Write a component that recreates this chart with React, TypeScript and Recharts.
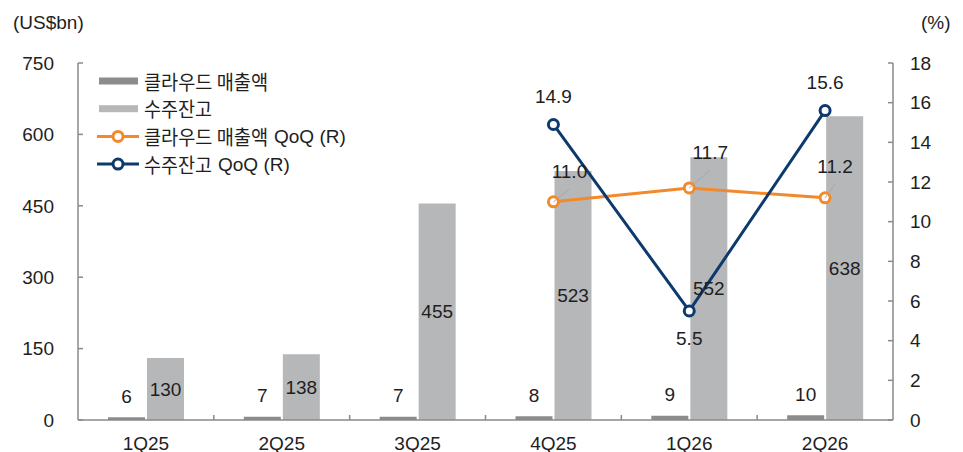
import React from 'react';
import { ComposedChart, Bar, Line, XAxis, YAxis, LabelList, Legend } from 'recharts';

// ---- data ----
const categories = ['1Q25', '2Q25', '3Q25', '4Q25', '1Q26', '2Q26'];
const cloudRevenue = [6, 7, 7, 8, 9, 10];
const backlog = [130, 138, 455, 523, 552, 638];
const cloudQoQ: (number | null)[] = [null, null, null, 11.0, 11.7, 11.2];
const backlogQoQ: (number | null)[] = [null, null, null, 14.9, 5.5, 15.6];
const leftTicks = [0, 150, 300, 450, 600, 750];
const rightTicks = [0, 2, 4, 6, 8, 10, 12, 14, 16, 18];
const seriesNames = ['클라우드 매출액', '수주잔고', '클라우드 매출액 QoQ (R)', '수주잔고 QoQ (R)'];
const leftUnit = '(US$bn)';
const rightUnit = '(%)';

// ---- styles ----
const DARK = '#8C8C8C';
const LIGHT = '#B6B7B9';
const ORANGE = '#F28A2C';
const NAVY = '#0D3A6C';
const AXIS = '#8A8A8A';
const TEXT = '#1E1E1E';
const LATIN = "'Liberation Sans', Arial, 'Noto Sans CJK KR', sans-serif";
const HANGUL = "'Noto Sans CJK KR', sans-serif";
const FS = 19;
const HANGUL_ADV = 17;
const SPACE_ADV = 5;
// label placement (style, not data)
const cloudQoQLabelOffset: Record<number, [number, number]> = { 3: [16, -30], 4: [21, -35], 5: [10, -31] };
const backlogQoQLabelSide: Record<number, number> = { 3: -1, 4: 1, 5: -1 };

const data = categories.map((c, i) => ({
  cat: c,
  cloud: cloudRevenue[i],
  backlog: backlog[i],
  cloudQoQ: cloudQoQ[i],
  backlogQoQ: backlogQoQ[i],
}));

const fmt1 = (v: number) => v.toFixed(1);

const DarkBarLabel = (p: any) => {
  const { x, y, width, value } = p;
  if (value == null) return null;
  return (
    <text x={x + width / 2} y={y - 21} textAnchor="middle" dominantBaseline="central"
      fontSize={FS} fontFamily={LATIN} fill={TEXT}>{value}</text>
  );
};

const LightBarLabel = (p: any) => {
  const { x, y, width, height, value } = p;
  if (value == null) return null;
  return (
    <text x={x + width / 2} y={y + height / 2} textAnchor="middle" dominantBaseline="central"
      fontSize={FS} fontFamily={LATIN} fill={TEXT}>{value}</text>
  );
};

const CloudQoQLabel = (p: any) => {
  const { x, y, value, index } = p;
  if (value == null) return null;
  const off = cloudQoQLabelOffset[index] || [14, -32];
  const lx = x + off[0];
  const ly = y + off[1];
  return (
    <g>
      <line x1={x} y1={y} x2={lx} y2={ly + 17} stroke="#A8A8A8" strokeWidth={1} />
      <text x={lx} y={ly} textAnchor="middle" dominantBaseline="central"
        fontSize={FS} fontFamily={LATIN} fill={TEXT}>{fmt1(value)}</text>
    </g>
  );
};

const BacklogQoQLabel = (p: any) => {
  const { x, y, value, index } = p;
  if (value == null) return null;
  const side = backlogQoQLabelSide[index] ?? -1;
  return (
    <text x={x} y={y + side * 28} textAnchor="middle" dominantBaseline="central"
      fontSize={FS} fontFamily={LATIN} fill={TEXT}>{fmt1(value)}</text>
  );
};

const splitName = (name: string) => {
  const idx = name.indexOf(' QoQ');
  if (idx < 0) return [name, ''];
  return [name.slice(0, idx), name.slice(idx + 1)];
};

const koWidth = (s: string) =>
  s.split('').reduce((acc, ch) => acc + (ch === ' ' ? SPACE_ADV : HANGUL_ADV), 0);

const LegendContent = () => {
  const rows = [
    { kind: 'bar', color: DARK, name: seriesNames[0] },
    { kind: 'bar', color: LIGHT, name: seriesNames[1] },
    { kind: 'line', color: ORANGE, name: seriesNames[2] },
    { kind: 'line', color: NAVY, name: seriesNames[3] },
  ];
  return (
    <svg width={280} height={115} style={{ display: 'block' }}>
      {rows.map((r, i) => {
        const cy = 14 + i * 27.7;
        const [ko, lat] = splitName(r.name);
        const w = koWidth(ko);
        return (
          <g key={i}>
            {r.kind === 'bar' ? (
              <rect x={4} y={cy - 3.5} width={39} height={7} fill={r.color} />
            ) : (
              <g>
                <line x1={2} y1={cy} x2={44} y2={cy} stroke={r.color} strokeWidth={3} />
                <circle cx={23} cy={cy} r={5} fill="#fff" stroke={r.color} strokeWidth={3} />
              </g>
            )}
            <text x={49} y={cy} dominantBaseline="central" fill={TEXT}
              fontFamily={HANGUL} fontSize={20} textLength={w} lengthAdjust="spacingAndGlyphs">
              {ko}
            </text>
            {lat ? (
              <text x={49 + w + 6} y={cy} dominantBaseline="central" fill={TEXT}
                fontFamily={LATIN} fontSize={FS}>
                {lat}
              </text>
            ) : null}
          </g>
        );
      })}
    </svg>
  );
};

const XTick = (p: any) => {
  const { x, payload } = p;
  const off = payload && typeof payload.offset === 'number' ? payload.offset : 815 / 12;
  const bx = payload.coordinate - off;
  return (
    <g>
      {payload.index > 0 ? (
        <line x1={bx} y1={420} x2={bx} y2={415} stroke={AXIS} strokeWidth={1.5} />
      ) : null}
      <text x={x} y={443} textAnchor="middle" dominantBaseline="central"
        fontSize={FS} fontFamily={LATIN} fill={TEXT}>{payload.value}</text>
    </g>
  );
};

export default function App() {
  return (
    <div style={{ position: 'absolute', left: 0, top: 0, width: 963, height: 452, background: '#fff' }}>
      <ComposedChart
        width={963}
        height={452}
        data={data}
        margin={{ top: 63, right: 0, bottom: 0, left: 0 }}
        barGap={2}
      >
        <XAxis
          dataKey="cat"
          height={32}
          axisLine={{ stroke: AXIS, strokeWidth: 1.5 }}
          tickLine={false}
          tickSize={0}
          tickMargin={0}
          tick={<XTick />}
          interval={0}
        />
        <YAxis
          yAxisId="left"
          width={78}
          domain={[0, 750]}
          ticks={leftTicks}
          interval={0}
          axisLine={{ stroke: AXIS, strokeWidth: 1.5 }}
          tickLine={{ stroke: AXIS, strokeWidth: 1.5 }}
          tickSize={-5}
          tickMargin={29}
          tick={{ fontSize: FS, fontFamily: LATIN, fill: TEXT }}
          label={() => (
            <text x={13} y={22} dominantBaseline="central" fontSize={FS} fontFamily={LATIN} fill={TEXT}>
              {leftUnit}
            </text>
          )}
        />
        <YAxis
          yAxisId="right"
          orientation="right"
          width={70}
          domain={[0, 18]}
          ticks={rightTicks}
          interval={0}
          axisLine={{ stroke: AXIS, strokeWidth: 1.5 }}
          tickLine={{ stroke: AXIS, strokeWidth: 1.5 }}
          tickSize={-5}
          tickMargin={22}
          tick={{ fontSize: FS, fontFamily: LATIN, fill: TEXT }}
          label={() => (
            <text x={921} y={22} dominantBaseline="central" fontSize={FS} fontFamily={LATIN} fill={TEXT}>
              {rightUnit}
            </text>
          )}
        />
        <Legend
          layout="vertical"
          align="center"
          verticalAlign="middle"
          content={<LegendContent />}
          wrapperStyle={{ position: 'absolute', left: 95, top: 67, width: 280, height: 115 }}
        />
        <Bar yAxisId="left" dataKey="cloud" name={seriesNames[0]} fill={DARK} barSize={37} isAnimationActive={false}>
          <LabelList dataKey="cloud" content={<DarkBarLabel />} />
        </Bar>
        <Bar yAxisId="left" dataKey="backlog" name={seriesNames[1]} fill={LIGHT} barSize={37} isAnimationActive={false}>
          <LabelList dataKey="backlog" content={<LightBarLabel />} />
        </Bar>
        <Line
          yAxisId="right"
          dataKey="cloudQoQ"
          name={seriesNames[2]}
          stroke={ORANGE}
          strokeWidth={3}
          dot={{ r: 5, fill: '#fff', stroke: ORANGE, strokeWidth: 3 }}
          activeDot={false}
          isAnimationActive={false}
        >
          <LabelList dataKey="cloudQoQ" content={<CloudQoQLabel />} />
        </Line>
        <Line
          yAxisId="right"
          dataKey="backlogQoQ"
          name={seriesNames[3]}
          stroke={NAVY}
          strokeWidth={3}
          dot={{ r: 5, fill: '#fff', stroke: NAVY, strokeWidth: 3 }}
          activeDot={false}
          isAnimationActive={false}
        >
          <LabelList dataKey="backlogQoQ" content={<BacklogQoQLabel />} />
        </Line>
      </ComposedChart>
    </div>
  );
}
